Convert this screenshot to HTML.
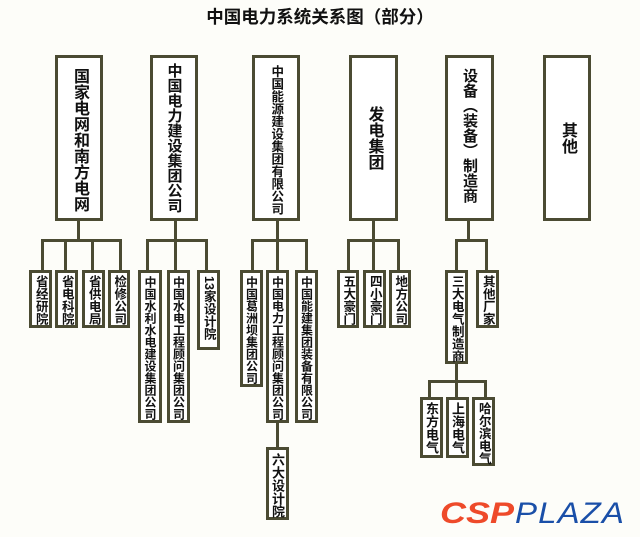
<!DOCTYPE html>
<html><head><meta charset="utf-8"><style>
body{margin:0;width:640px;height:537px;background:#fdfdf9;position:relative;overflow:hidden;font-family:"Liberation Sans","Noto Sans CJK SC",sans-serif;}
.b{position:absolute;box-sizing:border-box;border:3px solid #4b4b33;background:#fff;display:flex;justify-content:center;align-items:flex-start;overflow:visible;}
.v{writing-mode:vertical-rl;font-weight:bold;color:#111;letter-spacing:0;white-space:nowrap;line-height:1;}
.l{position:absolute;background:#4b4b33;}
</style></head><body>
<div style="position:absolute;left:0;width:640px;top:4px;text-align:center;font-weight:bold;font-size:17.5px;color:#111;">中国电力系统关系图（部分）</div>

<div class="b" style="left:55px;top:55px;width:48px;height:166px;padding-top:10px"><span class="v" style="font-size:16px">国家电网和南方电网</span></div>
<div class="b" style="left:150px;top:55px;width:48px;height:166px;padding-top:5px"><span class="v" style="font-size:15px">中国电力建设集团公司</span></div>
<div class="b" style="left:252px;top:55px;width:48px;height:166px;padding-top:7px"><span class="v" style="font-size:12.5px">中国能源建设集团有限公司</span></div>
<div class="b" style="left:349px;top:55px;width:49px;height:166px;align-items:center"><span class="v" style="font-size:16px">发电集团</span></div>
<div class="b" style="left:445px;top:55px;width:49px;height:166px;padding-top:10px"><span class="v" style="font-size:15px">设备（装备）制造商</span></div>
<div class="b" style="left:543px;top:55px;width:48px;height:166px;align-items:center"><span class="v" style="font-size:16px">其他</span></div>

<div class="l" style="left:77px;top:220px;width:3px;height:21px"></div>
<div class="l" style="left:41px;top:239px;width:81px;height:3px"></div>
<div class="l" style="left:41px;top:239px;width:3px;height:31px"></div>
<div class="l" style="left:64px;top:239px;width:3px;height:31px"></div>
<div class="l" style="left:91px;top:239px;width:3px;height:31px"></div>
<div class="l" style="left:119px;top:239px;width:3px;height:31px"></div>

<div class="l" style="left:174px;top:220px;width:3px;height:50px"></div>
<div class="l" style="left:146px;top:239px;width:62px;height:3px"></div>
<div class="l" style="left:146px;top:239px;width:3px;height:31px"></div>
<div class="l" style="left:205px;top:239px;width:3px;height:31px"></div>

<div class="l" style="left:276px;top:220px;width:3px;height:50px"></div>
<div class="l" style="left:251px;top:239px;width:57px;height:3px"></div>
<div class="l" style="left:251px;top:239px;width:3px;height:31px"></div>
<div class="l" style="left:305px;top:239px;width:3px;height:31px"></div>
<div class="l" style="left:276px;top:420px;width:3px;height:28px"></div>

<div class="l" style="left:372px;top:220px;width:3px;height:50px"></div>
<div class="l" style="left:347px;top:239px;width:53px;height:3px"></div>
<div class="l" style="left:347px;top:239px;width:3px;height:31px"></div>
<div class="l" style="left:397px;top:239px;width:3px;height:31px"></div>

<div class="l" style="left:467px;top:220px;width:3px;height:21px"></div>
<div class="l" style="left:455px;top:239px;width:33px;height:3px"></div>
<div class="l" style="left:455px;top:239px;width:3px;height:31px"></div>
<div class="l" style="left:485px;top:239px;width:3px;height:31px"></div>

<div class="l" style="left:455px;top:363px;width:3px;height:35px"></div>
<div class="l" style="left:428px;top:380px;width:59px;height:3px"></div>
<div class="l" style="left:428px;top:380px;width:3px;height:18px"></div>
<div class="l" style="left:484px;top:380px;width:3px;height:18px"></div>

<div class="b" style="left:29px;top:270px;width:23px;height:58px;padding-top:2px"><span class="v" style="font-size:12.5px">省经研院</span></div>
<div class="b" style="left:55px;top:270px;width:23px;height:58px;padding-top:2px"><span class="v" style="font-size:12.5px">省电科院</span></div>
<div class="b" style="left:82px;top:270px;width:23px;height:58px;padding-top:2px"><span class="v" style="font-size:12.5px">省供电局</span></div>
<div class="b" style="left:108px;top:270px;width:22px;height:58px;padding-top:2px"><span class="v" style="font-size:12.5px">检修公司</span></div>

<div class="b" style="left:138px;top:270px;width:24px;height:153px;padding-top:3px"><span class="v" style="font-size:12px">中国水利水电建设集团公司</span></div>
<div class="b" style="left:167px;top:270px;width:23px;height:153px;padding-top:3px"><span class="v" style="font-size:12px">中国水电工程顾问集团公司</span></div>
<div class="b" style="left:197px;top:270px;width:23px;height:80px;padding-top:3px"><span class="v" style="font-size:12.5px">13家设计院</span></div>

<div class="b" style="left:240px;top:270px;width:23px;height:117px;padding-top:3px"><span class="v" style="font-size:12px">中国葛洲坝集团公司</span></div>
<div class="b" style="left:266px;top:270px;width:23px;height:153px;padding-top:3px"><span class="v" style="font-size:12px">中国电力工程顾问集团公司</span></div>
<div class="b" style="left:295px;top:270px;width:23px;height:153px;padding-top:3px"><span class="v" style="font-size:12px">中国能建集团装备有限公司</span></div>
<div class="b" style="left:266px;top:447px;width:23px;height:73px;padding-top:3px"><span class="v" style="font-size:13px">六大设计院</span></div>

<div class="b" style="left:337px;top:270px;width:22px;height:58px;padding-top:2px"><span class="v" style="font-size:12.5px">五大豪门</span></div>
<div class="b" style="left:363px;top:270px;width:23px;height:58px;padding-top:2px"><span class="v" style="font-size:12.5px">四小豪门</span></div>
<div class="b" style="left:389px;top:270px;width:22px;height:58px;padding-top:2px"><span class="v" style="font-size:12.5px">地方公司</span></div>

<div class="b" style="left:445px;top:270px;width:23px;height:94px;padding-top:2px"><span class="v" style="font-size:12.5px">三大电气制造商</span></div>
<div class="b" style="left:476px;top:270px;width:23px;height:58px;padding-top:2px"><span class="v" style="font-size:12.5px">其他厂家</span></div>

<div class="b" style="left:420px;top:397px;width:23px;height:61px;padding-top:2px"><span class="v" style="font-size:13px">东方电气</span></div>
<div class="b" style="left:446px;top:397px;width:23px;height:61px;padding-top:2px"><span class="v" style="font-size:13px">上海电气</span></div>
<div class="b" style="left:472px;top:397px;width:23px;height:69px;padding-top:2px"><span class="v" style="font-size:12.5px">哈尔滨电气</span></div>

<div style="position:absolute;left:440px;top:497px;font-size:30px;font-weight:900;font-style:italic;color:#ee4a2a;letter-spacing:0;line-height:34px;transform:scaleX(1.2);transform-origin:left">CSP</div>
<div style="position:absolute;left:515px;top:497px;font-size:30px;font-style:italic;color:#1a4fa8;line-height:34px;letter-spacing:1px;transform:scaleX(1.1);transform-origin:left">PLAZA</div>
</body></html>
